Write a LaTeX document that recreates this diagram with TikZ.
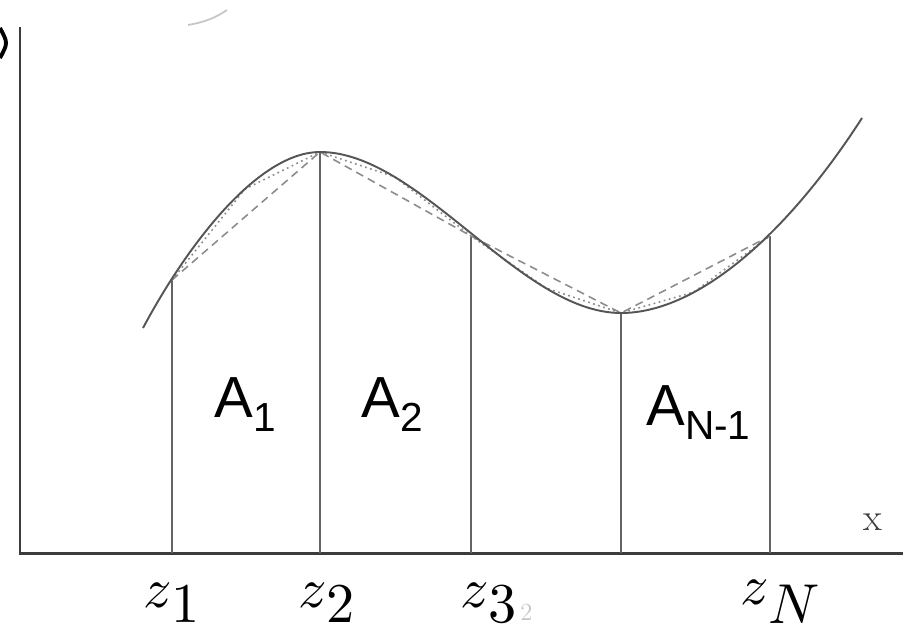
\documentclass[tikz,border=0pt]{standalone}
\usepackage{fontspec}
\usepackage{unicode-math}
\newfontfamily\arialfont{Liberation Sans}
\usepackage{tikz}
\usetikzlibrary{calc}
\usepackage{xcolor}
\definecolor{axisgray}{RGB}{60,60,60}
\definecolor{curvegray}{RGB}{85,85,85}
\definecolor{stripgray}{RGB}{100,100,100}
\definecolor{chordgray}{RGB}{140,140,140}

\begin{document}
\begin{tikzpicture}[x=0.02cm, y=-0.02cm,
    axis/.style={axisgray, line width=1.7pt},
    curve/.style={curvegray, line width=1.1pt},
    strip/.style={stripgray, line width=0.6pt},
    chord/.style={chordgray, line width=0.9pt, dash pattern=on 4.5pt off 3pt},
    subchord/.style={chordgray, line width=0.9pt, dash pattern=on 1pt off 2pt},
    arealab/.style={font=\arialfont\fontsize{33}{33}\selectfont, inner sep=0pt, anchor=base west},
    zlab/.style={font=\fontsize{32}{32}\selectfont, inner sep=0pt, anchor=base west}
]
    \useasboundingbox (0,0) rectangle (906,629);

    % Axes
    \coordinate (ytop) at (20,27);
    \coordinate (orig) at (20,553);
    \coordinate (xend) at (903,553);
    \draw[axis] (ytop) -- (orig) -- (xend);
    \node[font=\rmfamily\fontsize{22}{22}\selectfont, text=axisgray, inner sep=0pt] (xlab) at (873,522) {x};

    % Points on the curve and their feet on the axis
    \coordinate (p0) at (143,328);
    \coordinate (p1) at (172,280);
    \coordinate (p2) at (320,152);
    \coordinate (p3) at (471,236);
    \coordinate (p4) at (621,313);
    \coordinate (p5) at (770,236);
    \coordinate (p6) at (862,118);
    \foreach \i/\xx in {1/172, 2/320, 3/471, 4/621, 5/770}
        \coordinate (f\i) at (\xx,553);

    % Strips
    \foreach \i in {1,...,5}
        \draw[strip] (p\i) -- (f\i);

    % Midpoints for the finer chords
    \coordinate (m1) at (245,189);
    \coordinate (m2) at (395,177);
    \coordinate (m3) at (546,288);
    \coordinate (m4) at (694,292);

    % Chords (trapezoids) and finer chords
    \draw[chord] (p1) -- (p2) -- (p3) -- (p4) -- (p5);
    \draw[subchord] (p1) -- (m1) -- (p2) -- (m2) -- (p3) -- (m3) -- (p4) -- (m4) -- (p5);

    % The function
    \draw[curve] (p0) .. controls (190,240) and (260,152) .. (p2)
        .. controls (420,152) and (520,313) .. (p4)
        .. controls (700,313) and (790,230) .. (p6);

    % Areas
    \node[arealab] (a1) at (214,417) {A\textsubscript{1}};
    \node[arealab] (a2) at (361,417) {A\textsubscript{2}};
    \node[arealab] (an) at (646,425) {A\textsubscript{N-1}};

    % Nodes on the axis
    \node[zlab] (z1) at (143,607) {$z$\raisebox{-9pt}{$1$}};
    \node[zlab] (z2) at (298,607) {$z$\raisebox{-9pt}{$2$}};
    \node[zlab] (z3) at (460,607) {$z$\raisebox{-9pt}{$3$}};
    \node[font=\fontsize{14}{14}\selectfont, text=gray!45, inner sep=0pt, anchor=base west] (z3mark) at (520,620) {2};
    \node[zlab] (zn) at (740,604) {$z$\raisebox{-11pt}{$N$}};

    % Scan marks
    \draw[black, line width=2.2pt] (0,28) .. controls (8,43) .. (0,58);
    \draw[gray!45, line width=1pt] (188,25) .. controls (205,22) and (215,18) .. (227,10);
\end{tikzpicture}
\end{document}
